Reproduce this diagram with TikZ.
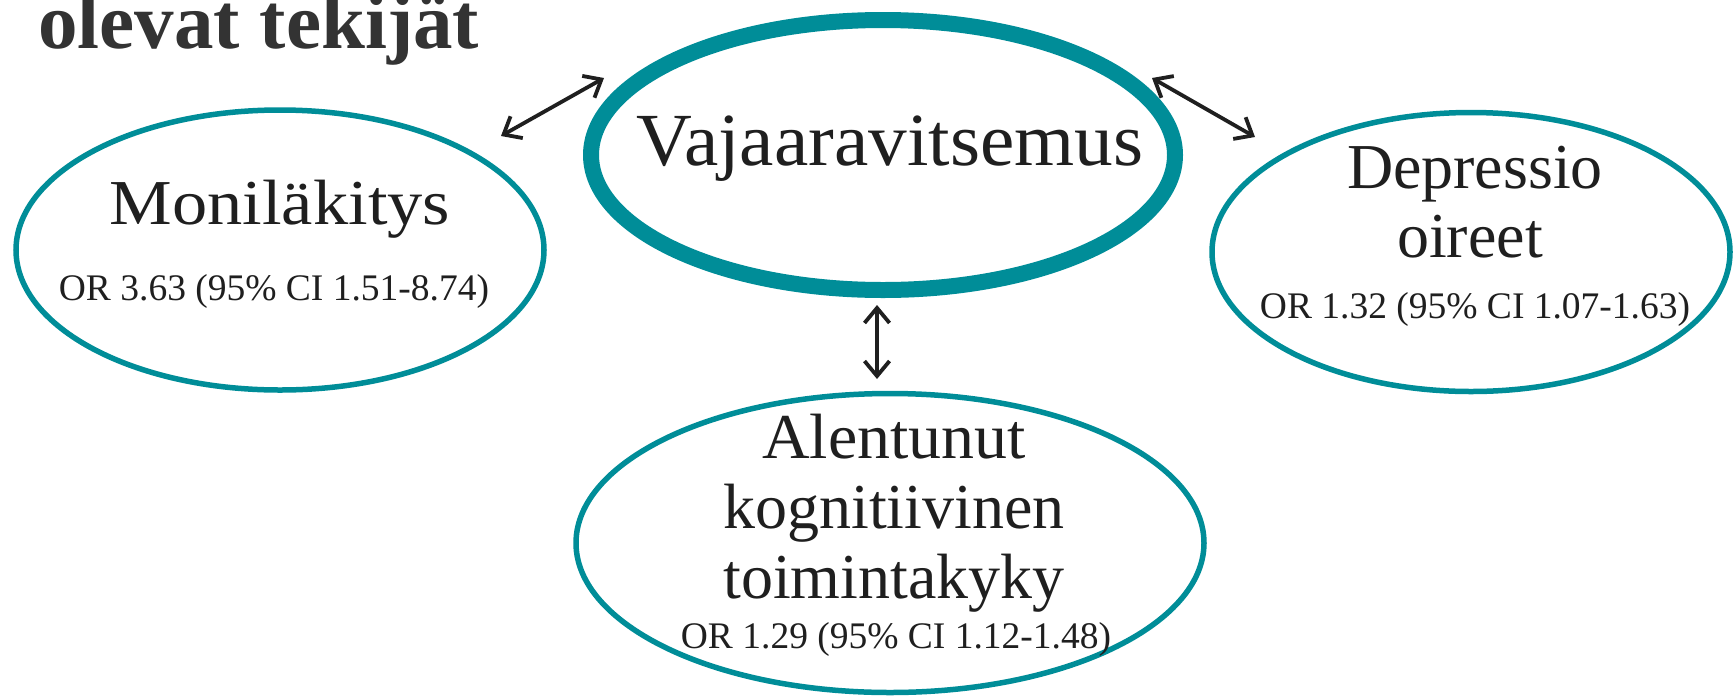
\documentclass[tikz,border=0pt]{standalone}
\usepackage{fontspec}
\setmainfont{Liberation Serif}
\usetikzlibrary{shapes.geometric,arrows.meta}
\definecolor{teal1}{HTML}{008D98}
\definecolor{ink}{HTML}{1F1F1F}
\definecolor{titlegray}{HTML}{333333}
\tikzset{
  ring/.style={ellipse, draw=teal1, line width=5.5pt, inner sep=0pt, outer sep=0pt, fill=white},
  mainring/.style={ring, line width=16pt},
  lbl/.style={anchor=base, text=ink, inner sep=0pt, font=\fontsize{64}{70}\selectfont},
  orlbl/.style={anchor=base, text=ink, inner sep=0pt, font=\fontsize{37.5}{40}\selectfont},
  link/.style={draw=ink, line width=3.8pt, {Straight Barb[length=15pt,width=25pt]}-{Straight Barb[length=15pt,width=25pt]}}
}
\begin{document}
\begin{tikzpicture}[x=1pt,y=-1pt]
\useasboundingbox (0,0) rectangle (1733,697);
% title
\node[anchor=base west, text=titlegray, inner sep=0pt, font=\bfseries\fontsize{79}{80}\selectfont] (title) at (38,48) {olevat tekijät};
% ellipses
\node[mainring, minimum width=584pt, minimum height=270pt] (vaj) at (883,155) {};
\node[ring, minimum width=528pt, minimum height=280pt] (mon) at (280,250) {};
\node[ring, minimum width=518pt, minimum height=279pt] (dep) at (1471,252) {};
\node[ring, minimum width=628pt, minimum height=299pt] (kog) at (890,543) {};
% labels
\node[anchor=base, text=ink, inner sep=0pt, font=\fontsize{75}{80}\selectfont] (vajt) at (890,165) {\scalebox{1.03}[1]{Vajaaravitsemus}};
\node[lbl] (mont) at (280,224) {\scalebox{1.1}[1]{Moniläkitys}};
\node[orlbl] (monor) at (274,300) {OR 3.63 (95\% CI 1.51-8.74)};
\node[lbl] (dept1) at (1475,188) {Depressio};
\node[lbl] (dept2) at (1470,257) {oireet};
\node[orlbl] (depor) at (1475,318) {OR 1.32 (95\% CI 1.07-1.63)};
\node[lbl] (kogt1) at (894,458) {\scalebox{1.03}[1]{Alentunut}};
\node[lbl] (kogt2) at (894,528) {kognitiivinen};
\node[lbl] (kogt3) at (894,598) {toimintakyky};
\node[orlbl] (kogor) at (896,648) {OR 1.29 (95\% CI 1.12-1.48)};
% connectors
\coordinate (la) at (501,136);
\coordinate (lb) at (604,78);
\coordinate (ra) at (1152,78);
\coordinate (rb) at (1255,137);
\coordinate (va) at (877,305);
\coordinate (vb) at (877,379);
\draw[link] (la) -- (lb);
\draw[link] (ra) -- (rb);
\draw[link] (va) -- (vb);
\end{tikzpicture}
\end{document}
